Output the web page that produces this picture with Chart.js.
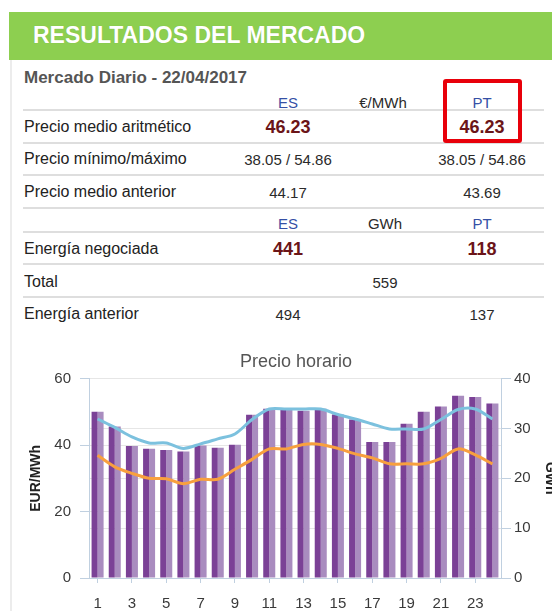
<!DOCTYPE html>
<html><head><meta charset="utf-8">
<script src="https://cdn.jsdelivr.net/npm/chart.js@4.4.1/dist/chart.umd.min.js"></script>
<style>
html,body{margin:0;padding:0;width:552px;height:611px;overflow:hidden;background:#fff;font-family:Arial,"Liberation Sans",sans-serif;}
body{position:relative;}
#hdr{position:absolute;left:9px;top:12px;width:560px;height:48px;background:#8dcf50;}
#hdrt{position:absolute;left:33px;top:35px;transform:translateY(-50%);color:#fff;font-weight:bold;font-size:23px;white-space:nowrap;text-shadow:0 0 1px rgba(0,0,0,0.15);}
#panel{position:absolute;left:10px;top:60px;width:2px;height:560px;background:#ececec;}
.line{position:absolute;left:23px;width:521px;height:2px;background:#dedede;}
.c{position:absolute;transform:translate(-50%,-50%);white-space:nowrap;font-size:15px;color:#2a2a2a;}
.l{position:absolute;left:24px;transform:translateY(-50%);white-space:nowrap;font-size:16px;color:#222;}
.h{color:#3550a5;}
.b{font-weight:bold;font-size:18px;color:#6b1518;}
#sub{position:absolute;left:24px;top:78px;transform:translateY(-50%);font-size:17px;font-weight:bold;color:#555;white-space:nowrap;}
#redbox{position:absolute;left:443px;top:79px;width:79px;height:64px;box-sizing:border-box;border:4px solid #e8000a;border-radius:3px;}
#cv{position:absolute;left:10px;top:340px;}
</style></head>
<body>
<div id="hdr"></div>
<div id="hdrt">RESULTADOS DEL MERCADO</div>
<div id="panel"></div>
<div id="sub">Mercado Diario - 22/04/2017</div>

<div class="c h" style="left:288px;top:102px">ES</div>
<div class="c" style="left:383px;top:102px">€/MWh</div>
<div class="c h" style="left:482px;top:102px">PT</div>
<div class="line" style="top:109px"></div>

<div class="l" style="top:127px">Precio medio aritmético</div>
<div class="c b" style="left:288px;top:127px">46.23</div>
<div class="c b" style="left:482px;top:127px">46.23</div>
<div class="line" style="top:142px"></div>

<div class="l" style="top:159px">Precio mínimo/máximo</div>
<div class="c" style="left:288px;top:159px">38.05 / 54.86</div>
<div class="c" style="left:482px;top:159px">38.05 / 54.86</div>
<div class="line" style="top:174px"></div>

<div class="l" style="top:192px">Precio medio anterior</div>
<div class="c" style="left:288px;top:192px">44.17</div>
<div class="c" style="left:482px;top:192px">43.69</div>
<div class="line" style="top:207px"></div>

<div class="c h" style="left:288px;top:223px">ES</div>
<div class="c" style="left:385px;top:223px">GWh</div>
<div class="c h" style="left:482px;top:223px">PT</div>
<div class="line" style="top:231px"></div>

<div class="l" style="top:249px">Energía negociada</div>
<div class="c b" style="left:288px;top:249px">441</div>
<div class="c b" style="left:482px;top:249px">118</div>
<div class="line" style="top:263px"></div>

<div class="l" style="top:282px">Total</div>
<div class="c" style="left:385px;top:282px">559</div>
<div class="line" style="top:296px"></div>

<div class="l" style="top:314px">Energía anterior</div>
<div class="c" style="left:288px;top:314px">494</div>
<div class="c" style="left:482px;top:314px">137</div>

<div id="redbox"></div>

<canvas id="cv" width="553" height="272"></canvas>
<script>
const horas = ['1','2','3','4','5','6','7','8','9','10','11','12','13','14','15','16','17','18','19','20','21','22','23','24'];
const precioES = [50.0,45.6,39.7,38.9,38.5,38.05,39.9,39.2,40.1,49.1,50.9,50.9,50.3,50.9,49.2,47.7,40.9,40.9,46.4,50.0,51.6,54.86,54.5,52.5];
const precioPT = [50.0,45.6,39.7,38.9,38.5,38.05,39.9,39.2,40.1,49.1,50.9,50.9,50.3,50.9,49.2,47.7,40.9,40.9,46.4,50.0,51.6,54.86,54.5,52.5];
const gwhAzul = [31.9,30.2,28.3,27.1,27.1,26.0,26.9,27.9,28.9,31.8,33.9,33.9,33.9,33.9,32.8,31.9,30.9,29.9,29.9,29.9,31.8,33.8,33.9,31.9];
const gwhNaranja = [24.6,22.3,21.0,20.0,19.9,18.9,19.8,19.8,21.8,23.8,25.9,25.9,26.8,26.8,26.0,24.9,24.1,22.9,22.9,22.9,24.0,25.9,24.7,22.9];
const ticksEUR = {min:0, max:60, step:20};
const ticksGWh = {min:0, max:40, step:10};

const axisCol = '#c0d0e0';
const gridCol = '#e6e6e6';
const lblFont = {family:'Arial', size:15};

new Chart(document.getElementById('cv'), {
  type:'bar',
  data:{
    labels:horas,
    datasets:[
      {type:'line', data:gwhAzul, yAxisID:'y1', borderColor:'#7cc1de', borderWidth:3, pointRadius:0, tension:0.3, order:0},
      {type:'line', data:gwhNaranja, yAxisID:'y1', borderColor:'#f8a03e', borderWidth:3, pointRadius:0, tension:0.3, order:0},
      {data:precioES, yAxisID:'y', backgroundColor:'#7b4196', categoryPercentage:0.7, barPercentage:1, order:1},
      {data:precioPT, yAxisID:'y', backgroundColor:'#a98cbf', categoryPercentage:0.7, barPercentage:1, order:1}
    ]
  },
  options:{
    responsive:false, animation:false, devicePixelRatio:1,
    layout:{padding:{left:19,right:0,top:0,bottom:0}},
    plugins:{
      legend:{display:false}, tooltip:{enabled:false},
      title:{display:true, text:'Precio horario', color:'#555', font:{family:'Arial', size:18, weight:'normal', lineHeight:1.2}, padding:{top:11,bottom:6}}
    },
    scales:{
      x:{
        offset:true,
        grid:{offset:false, drawOnChartArea:false, drawTicks:true, tickLength:5, tickColor:(c)=> (c.index%2===0 ? axisCol : 'rgba(0,0,0,0)')},
        border:{color:axisCol, width:1},
        ticks:{autoSkip:false, maxRotation:0, padding:12, color:'#3a3a3a', font:lblFont, callback:(v,i)=> (i%2===0 ? horas[i] : '')},
        afterFit:(s)=>{ s.height = 34; }
      },
      y:{
        position:'left', min:ticksEUR.min, max:ticksEUR.max,
        ticks:{stepSize:ticksEUR.step, padding:9, color:'#3a3a3a', font:lblFont},
        grid:{color:gridCol, tickColor:axisCol, tickLength:9},
        border:{color:axisCol, width:1},
        title:{display:true, text:'EUR/MWh', color:'#222', font:{family:'Arial', size:14, weight:'bold', lineHeight:1}, padding:{top:0,bottom:0}},
        afterFit:(s)=>{ s.width = 60; }
      },
      y1:{
        position:'right', min:ticksGWh.min, max:ticksGWh.max,
        ticks:{stepSize:ticksGWh.step, padding:3, color:'#3a3a3a', font:lblFont},
        grid:{color:gridCol, tickColor:axisCol, tickLength:10},
        border:{color:axisCol, width:1},
        title:{display:true, text:'GWh', color:'#222', font:{family:'Arial', size:14, weight:'bold', lineHeight:1}, padding:{top:6,bottom:0}},
        afterFit:(s)=>{ s.width = 62; }
      }
    }
  }
});
</script>
</body></html>
